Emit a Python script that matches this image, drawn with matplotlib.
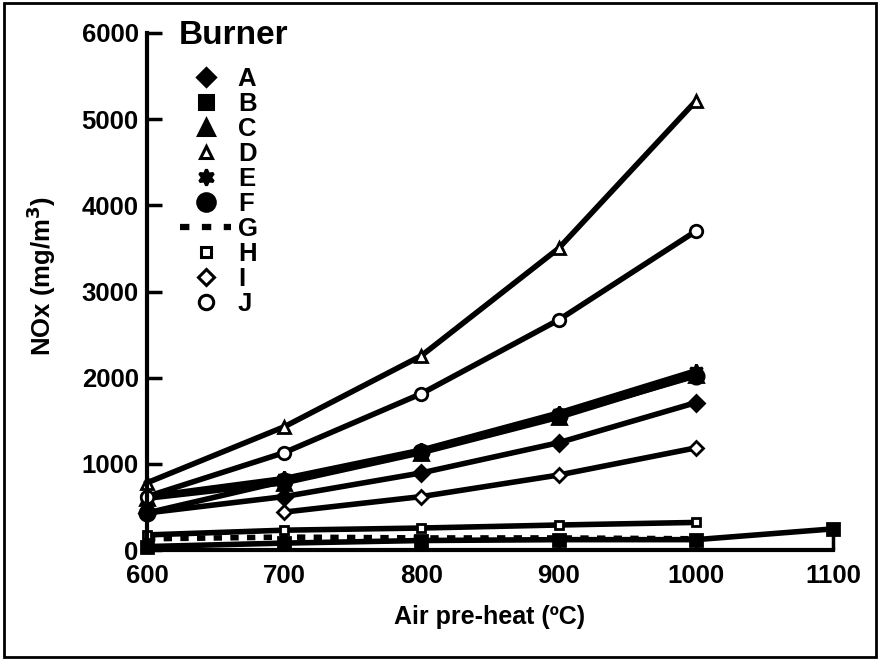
import numpy as np
import matplotlib
matplotlib.use("Agg")
import matplotlib.pyplot as plt
from matplotlib.patches import Rectangle
from matplotlib.lines import Line2D

plt.rcParams['font.family'] = ['Liberation Sans', 'DejaVu Sans']
plt.rcParams['font.weight'] = 'bold'

temps = [600, 700, 800, 900, 1000]
temps_b = [600, 700, 800, 900, 1000, 1100]
temps_i = [700, 800, 900, 1000]

nox_a = [430, 620, 895, 1245, 1710]
nox_b = [40, 80, 110, 120, 120, 245]
nox_c = [600, 780, 1130, 1540, 2030]
nox_d = [780, 1430, 2255, 3500, 5210]
nox_e = [620, 830, 1160, 1590, 2080]
nox_f = [430, 800, 1140, 1560, 2020]
nox_g = [130, 150, 140, 140, 130]
nox_h = [175, 230, 255, 290, 320]
nox_i = [440, 620, 870, 1185]
nox_j = [620, 1130, 1815, 2670, 3700]

burners = ['A', 'B', 'C', 'D', 'E', 'F', 'G', 'H', 'I', 'J']

fig = plt.figure(figsize=(8.8, 6.6), dpi=100)
ax = fig.add_axes([147/880, 1-550/660, (833-147)/880, (550-33)/660])

k = 'black'
# marker styles per burner: (marker, size, filled)
styles = {
    'A': ('D', 8, True),
    'B': ('s', 9, True),
    'C': ('^', 10, True),
    'D': ('^', 8, False),
    'E': ((6, 1, 0), 10, True),
    'F': ('o', 11, True),
    'G': (None, 0, True),
    'H': ('s', 6, False),
    'I': ('D', 7, False),
    'J': ('o', 9, False),
}
series = {
    'A': (temps, nox_a), 'B': (temps_b, nox_b), 'C': (temps, nox_c),
    'D': (temps, nox_d), 'E': (temps, nox_e), 'F': (temps, nox_f),
    'G': (temps, nox_g), 'H': (temps, nox_h), 'I': (temps_i, nox_i),
    'J': (temps, nox_j),
}

handles = []
for name in burners:
    m, ms, filled = styles[name]
    x, y = series[name]
    fc = k if filled else 'white'
    ls = (0, (1.5, 1.5)) if name == 'G' else '-'
    ax.plot(x, y, color=k, lw=4, ls=ls, marker=m, ms=ms, mfc=fc, mec=k, mew=2,
            clip_on=False)
    if name == 'G':
        handles.append(Line2D([], [], color=k, lw=4.5, ls=(0, (1.5, 2.0))))
    else:
        handles.append(Line2D([], [], ls='none', marker=m, ms=ms * 1.15, mfc=fc,
                              mec=k, mew=2.2))

ax.set_xlim(600, 1100)
ax.set_ylim(0, 6000)
ax.set_xticks([600, 700, 800, 900, 1000, 1100])
ax.set_yticks([0, 1000, 2000, 3000, 4000, 5000, 6000])
ax.spines['top'].set_visible(False)
ax.spines['right'].set_visible(False)
ax.spines['left'].set_linewidth(3)
ax.spines['bottom'].set_linewidth(3)
ax.tick_params(direction='in', length=11, width=2.5, labelsize=18.5)
ax.tick_params(axis='x', pad=10)
ax.tick_params(axis='y', pad=6)

ax.set_xlabel('Air pre-heat (ºC)', fontsize=18, fontweight='bold', labelpad=12)
ax.set_ylabel('NOx (mg/m$^\\mathbf{3}$)', fontsize=18.5, fontweight='bold', labelpad=11)
ax.yaxis.set_label_coords(-0.13, 0.53)

ax.legend(handles, burners, loc='upper left', bbox_to_anchor=(180/880, 1-67/660),
          bbox_transform=fig.transFigure, frameon=False, fontsize=18.5,
          handlelength=2.0, handletextpad=0.25, labelspacing=0.04,
          borderpad=0, borderaxespad=0)
fig.text(179/880, 1-44/660, 'Burner', fontsize=24, fontweight='bold', va='baseline')

fig.patches.append(Rectangle((0.005, 0.005), 0.99, 0.99, transform=fig.transFigure,
                             fill=False, lw=2, ec='black'))

fig.savefig('out.png', dpi=100)
